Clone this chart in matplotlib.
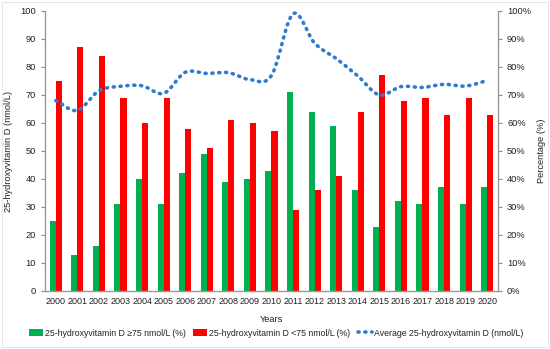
import numpy as np
import matplotlib
matplotlib.use("Agg")
import matplotlib.pyplot as plt
from matplotlib.patches import Rectangle

plt.rcParams['font.family'] = ['Liberation Sans', 'DejaVu Sans']

years = [str(y) for y in range(2000, 2021)]
pct_ge75 = [25, 13, 16, 31, 40, 31, 42, 49, 39, 40, 43, 71, 64, 59, 36, 23, 32, 31, 37, 31, 37]
pct_lt75 = [75, 87, 84, 69, 60, 69, 58, 51, 61, 60, 57, 29, 36, 41, 64, 77, 68, 69, 63, 69, 63]
avg_25ohd = [68, 64.5, 71.5, 73.1, 73.3, 70.6, 78.1, 77.7, 78, 75.5, 77, 99, 88.5, 83, 76.8, 70, 73, 72.7, 73.8, 73.2, 75.2]


def catmull_rom(xs, ys, n=20):
    xs = np.asarray(xs, float)
    ys = np.asarray(ys, float)
    px = np.concatenate([[2 * xs[0] - xs[1]], xs, [2 * xs[-1] - xs[-2]]])
    py = np.concatenate([[2 * ys[0] - ys[1]], ys, [2 * ys[-1] - ys[-2]]])
    outx, outy = [], []
    for i in range(1, len(px) - 2):
        t = np.linspace(0, 1, n, endpoint=False)
        for arr, out in ((px, outx), (py, outy)):
            p0, p1, p2, p3 = arr[i - 1], arr[i], arr[i + 1], arr[i + 2]
            m1 = (p2 - p0) / 2
            m2 = (p3 - p1) / 2
            h00 = 2 * t**3 - 3 * t**2 + 1
            h10 = t**3 - 2 * t**2 + t
            h01 = -2 * t**3 + 3 * t**2
            h11 = t**3 - t**2
            out.extend(h00 * p1 + h10 * m1 + h01 * p2 + h11 * m2)
    outx.append(xs[-1])
    outy.append(ys[-1])
    return np.array(outx), np.array(outy)


fs = 6.3
fig = plt.figure(figsize=(5.5, 3.49), dpi=100)
ax = fig.add_axes([45 / 550, 1 - 291 / 349, 453 / 550, 280 / 349])

x = np.arange(len(years))
w = 0.28
green = '#00B050'
red = '#FF0000'
blue = '#2E7BD0'
b1 = ax.bar(x - w / 2, pct_ge75, width=w, color=green, label='25-hydroxyvitamin D \u226575 nmol/L (%)')
b2 = ax.bar(x + w / 2, pct_lt75, width=w, color=red, label='25-hydroxyvitamin D <75 nmol/L (%)')
sx, sy = catmull_rom(x, avg_25ohd)
ln, = ax.plot(sx, sy, linestyle=(0, (0.3, 1.6)), color=blue, linewidth=2.6,
              dash_capstyle='round', label='Average 25-hydroxyvitamin D (nmol/L)')

ax.set_xlim(-0.5, len(years) - 0.5)
ax.set_ylim(0, 100)
ax.set_yticks(range(0, 101, 10))
ax.set_xticks(x)
ax.set_xticklabels(years)
ax.tick_params(axis='both', labelsize=fs + 0.4, color='#888888', length=3, width=0.8, labelcolor='#222222')
ax.tick_params(axis='x', length=0, pad=4, labelsize=fs + 0.2)
for s in ['top', 'right']:
    ax.spines[s].set_visible(False)
for s in ['left', 'bottom']:
    ax.spines[s].set_color('#999999')
    ax.spines[s].set_linewidth(1.0)
ax.set_ylabel('25-hydroxyvitamin D (nmol/L)', fontsize=fs + 0.4, color='#222222', labelpad=5)
ax.set_xlabel('Years', fontsize=fs + 0.4, color='#222222')
ax.xaxis.set_label_coords(0.5, -0.085)

ax2 = ax.twinx()
ax2.set_ylim(0, 100)
ax2.set_yticks(range(0, 101, 10))
ax2.set_yticklabels([f'{v}%' for v in range(0, 101, 10)])
ax2.tick_params(axis='y', labelsize=fs + 0.4, color='#888888', length=3, width=0.8, labelcolor='#222222')
for s in ['top', 'left', 'bottom']:
    ax2.spines[s].set_visible(False)
ax2.spines['right'].set_color('#999999')
ax2.spines['right'].set_linewidth(1.0)
ax2.set_ylabel('Percentage (%)', fontsize=fs + 0.4, color='#222222', labelpad=4)

fig.legend([b1, b2, ln], [b1.get_label(), b2.get_label(), ln.get_label()],
           loc='center', bbox_to_anchor=(276 / 550, 1 - 333 / 349), ncol=3, frameon=False,
           fontsize=fs, handlelength=1.6, handletextpad=0.2, columnspacing=0.9,
           labelcolor='#222222')

fig.patches.append(Rectangle((2 / 550, 2 / 349), 546 / 550, 345 / 349, transform=fig.transFigure,
                             fill=False, edgecolor='#e6e6e6', linewidth=0.8))

fig.savefig('out.png', dpi=100)
